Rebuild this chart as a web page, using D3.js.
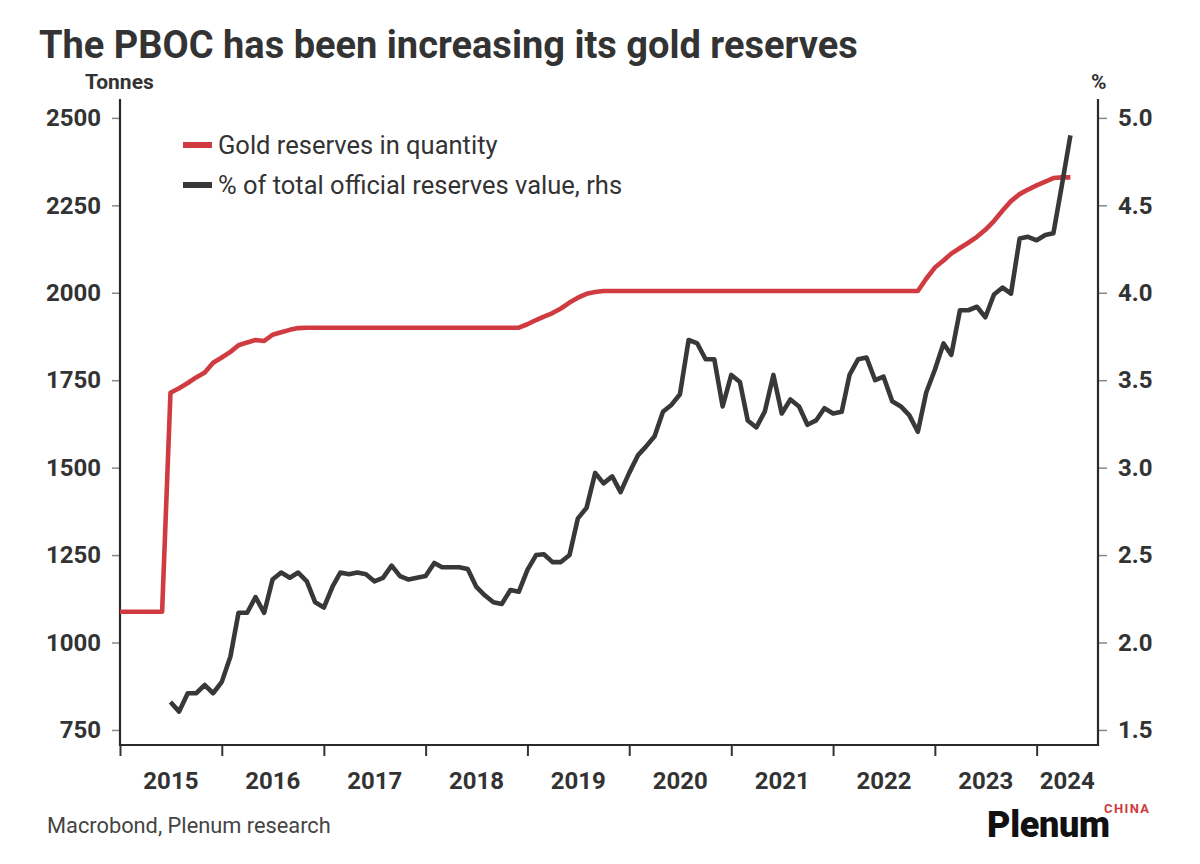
<!DOCTYPE html>
<html>
<head>
<meta charset="utf-8">
<script src="https://cdn.jsdelivr.net/npm/d3@7"></script>
<style>
  body { margin: 0; background: #fff; }
  svg { display: block; font-family: Roboto, "Noto Sans", sans-serif; }
</style>
</head>
<body>
<svg id="chart" width="1200" height="864"></svg>
<script>
// monthly series, first point = Jan 2015
var startMonth = "2015-01";

// gold reserves, tonnes (Jan 2015 .. May 2024)
var goldTonnes = [
  1088, 1088, 1088, 1088, 1088, 1088,
  1714, 1727, 1742, 1758, 1772, 1800,
  1815, 1831, 1850, 1858, 1865, 1862, 1880, 1887, 1894, 1899, 1900, 1900,
  1900, 1900, 1900, 1900, 1900, 1900, 1900, 1900, 1900, 1900, 1900, 1900,
  1900, 1900, 1900, 1900, 1900, 1900, 1900, 1900, 1900, 1900, 1900, 1900,
  1910, 1922, 1932, 1942, 1955, 1972, 1986, 1997, 2002, 2005, 2005, 2005,
  2005, 2005, 2005, 2005, 2005, 2005, 2005, 2005, 2005, 2005, 2005, 2005,
  2005, 2005, 2005, 2005, 2005, 2005, 2005, 2005, 2005, 2005, 2005, 2005,
  2005, 2005, 2005, 2005, 2005, 2005, 2005, 2005, 2005, 2005, 2005, 2040,
  2072, 2092, 2112, 2128, 2143, 2160, 2180, 2205, 2235, 2262, 2282, 2295,
  2307, 2318, 2328, 2330, 2330
];

// gold as % of total official reserves value (starts Jul 2015)
var pctOffset = 6;
var goldPct = [
  1.66, 1.605, 1.71, 1.71, 1.757, 1.71,
  1.775, 1.92, 2.17, 2.17, 2.26, 2.17, 2.36, 2.40, 2.37, 2.40, 2.35, 2.23,
  2.20, 2.32, 2.40, 2.39, 2.40, 2.39, 2.35, 2.37, 2.44, 2.38, 2.36, 2.37,
  2.38, 2.455, 2.43, 2.43, 2.43, 2.42, 2.32, 2.27, 2.23, 2.22, 2.30, 2.29,
  2.415, 2.50, 2.505, 2.46, 2.46, 2.50, 2.71, 2.77, 2.97, 2.91, 2.95, 2.86,
  2.97, 3.07, 3.12, 3.18, 3.32, 3.36, 3.42, 3.73, 3.71, 3.62, 3.62, 3.35,
  3.53, 3.49, 3.27, 3.23, 3.32, 3.53, 3.31, 3.39, 3.35, 3.245, 3.27, 3.34,
  3.31, 3.32, 3.53, 3.62, 3.63, 3.50, 3.52, 3.38, 3.35, 3.30, 3.205, 3.43,
  3.56, 3.71, 3.645, 3.90, 3.90, 3.92, 3.86, 3.99, 4.03, 3.995, 4.31, 4.32,
  4.30, 4.33, 4.34, 4.62, 4.90
];

var leftTicks = [750, 1000, 1250, 1500, 1750, 2000, 2250, 2500];
var rightTicks = [1.5, 2.0, 2.5, 3.0, 3.5, 4.0, 4.5, 5.0];
var years = [2015, 2016, 2017, 2018, 2019, 2020, 2021, 2022, 2023, 2024];

var seriesNames = ["Gold reserves in quantity", "% of total official reserves value, rhs"];
var seriesColors = ["#cf3b40", "#383838"];

var svg = d3.select("#chart");
var plotLeft = 120, plotRight = 1098, plotTop = 99, plotBottom = 745;

var t0 = d3.timeParse("%Y-%m")(startMonth);
var monthDate = function(i) { return d3.timeMonth.offset(t0, i); };

var x = d3.scaleTime()
    .domain([new Date(2015, 0, 1), new Date(2024, 7, 8)])
    .range([plotLeft, plotRight]);
var yL = d3.scaleLinear().domain([707, 2554]).range([plotBottom, plotTop]);
var yR = d3.scaleLinear().domain([1.414, 5.108]).range([plotBottom, plotTop]);

var ink = "#333";

// title
svg.append("text")
    .attr("x", 39).attr("y", 58)
    .attr("font-size", 38).attr("font-weight", 700)
    .attr("fill", ink)
    .text("The PBOC has been increasing its gold reserves");

svg.append("text").attr("x", 85).attr("y", 89)
    .attr("font-size", 21).attr("font-weight", 700).attr("fill", ink)
    .text("Tonnes");
svg.append("text").attr("x", 1091).attr("y", 89)
    .attr("font-size", 21).attr("font-weight", 700).attr("fill", ink)
    .text("%");

// axes
var axL = svg.append("g").attr("transform", "translate(" + plotLeft + ",0)")
    .call(d3.axisLeft(yL).tickValues(leftTicks).tickSize(8).tickPadding(11).tickSizeOuter(0)
        .tickFormat(d3.format("d")));
var axR = svg.append("g").attr("transform", "translate(" + plotRight + ",0)")
    .call(d3.axisRight(yR).tickValues(rightTicks).tickSize(9).tickPadding(11).tickSizeOuter(0)
        .tickFormat(d3.format(".1f")));
[axL, axR].forEach(function(ax) {
    ax.select(".domain").remove();
    ax.selectAll(".tick line").attr("stroke", "#888").attr("stroke-width", 1.5);
    ax.selectAll(".tick text")
        .attr("font-family", "Roboto, sans-serif")
        .attr("font-size", 24).attr("font-weight", 700).attr("fill", ink);
});

var axB = svg.append("g").attr("transform", "translate(0," + plotBottom + ")")
    .call(d3.axisBottom(x).tickValues(years.map(function(y) { return new Date(y, 0, 1); }))
        .tickSize(11).tickFormat("").tickSizeOuter(0));
axB.select(".domain").remove();
axB.selectAll(".tick line").attr("stroke", "#333").attr("stroke-width", 2);

svg.append("g").selectAll("text.year")
    .data(years)
    .join("text")
    .attr("class", "year")
    .attr("x", function(y) {
        var a = Math.max(x(new Date(y, 0, 1)), plotLeft);
        var b = Math.min(x(new Date(y + 1, 0, 1)), plotRight);
        return (a + b) / 2;
    })
    .attr("y", 789)
    .attr("text-anchor", "middle")
    .attr("font-size", 24).attr("font-weight", 700).attr("fill", ink)
    .text(function(y) { return y; });

// frame: left, bottom, right
svg.append("path")
    .attr("d", d3.line()([[plotLeft, plotTop], [plotLeft, plotBottom], [plotRight, plotBottom], [plotRight, plotTop]]))
    .attr("fill", "none").attr("stroke", "#2a2a2a").attr("stroke-width", 2.2);

// lines
var tonnesLine = d3.line()
    .x(function(d, i) { return x(monthDate(i)); })
    .y(function(d) { return yL(d); });
var pctLine = d3.line()
    .x(function(d, i) { return x(monthDate(i + pctOffset)); })
    .y(function(d) { return yR(d); });

svg.append("path").datum(goldTonnes)
    .attr("d", tonnesLine)
    .attr("fill", "none").attr("stroke", seriesColors[0])
    .attr("stroke-width", 4.6).attr("stroke-linejoin", "round");
svg.append("path").datum(goldPct)
    .attr("d", pctLine)
    .attr("fill", "none").attr("stroke", seriesColors[1])
    .attr("stroke-width", 4.6).attr("stroke-linejoin", "round");

// legend
var lg = svg.append("g").selectAll("g")
    .data(seriesNames)
    .join("g")
    .attr("transform", function(d, i) { return "translate(183," + (145 + i * 40) + ")"; });
lg.append("line").attr("x1", 0).attr("x2", 29)
    .attr("stroke", function(d, i) { return seriesColors[i]; })
    .attr("stroke-width", 6);
lg.append("text").attr("x", 35).attr("dy", "0.36em")
    .attr("font-size", 25.5).attr("fill", ink)
    .text(function(d) { return d; });

// source + logo
svg.append("text").attr("x", 47).attr("y", 833)
    .attr("font-size", 21.8).attr("fill", "#444")
    .text("Macrobond, Plenum research");
svg.append("text").attr("x", 987).attr("y", 837)
    .attr("font-size", 36).attr("font-weight", 900).attr("fill", "#111")
    .attr("letter-spacing", -0.3)
    .text("Plenum");
svg.append("text").attr("x", 1104).attr("y", 813)
    .attr("font-size", 13).attr("font-weight", 700).attr("fill", seriesColors[0])
    .attr("letter-spacing", 1.4)
    .text("CHINA");
</script>
</body>
</html>
